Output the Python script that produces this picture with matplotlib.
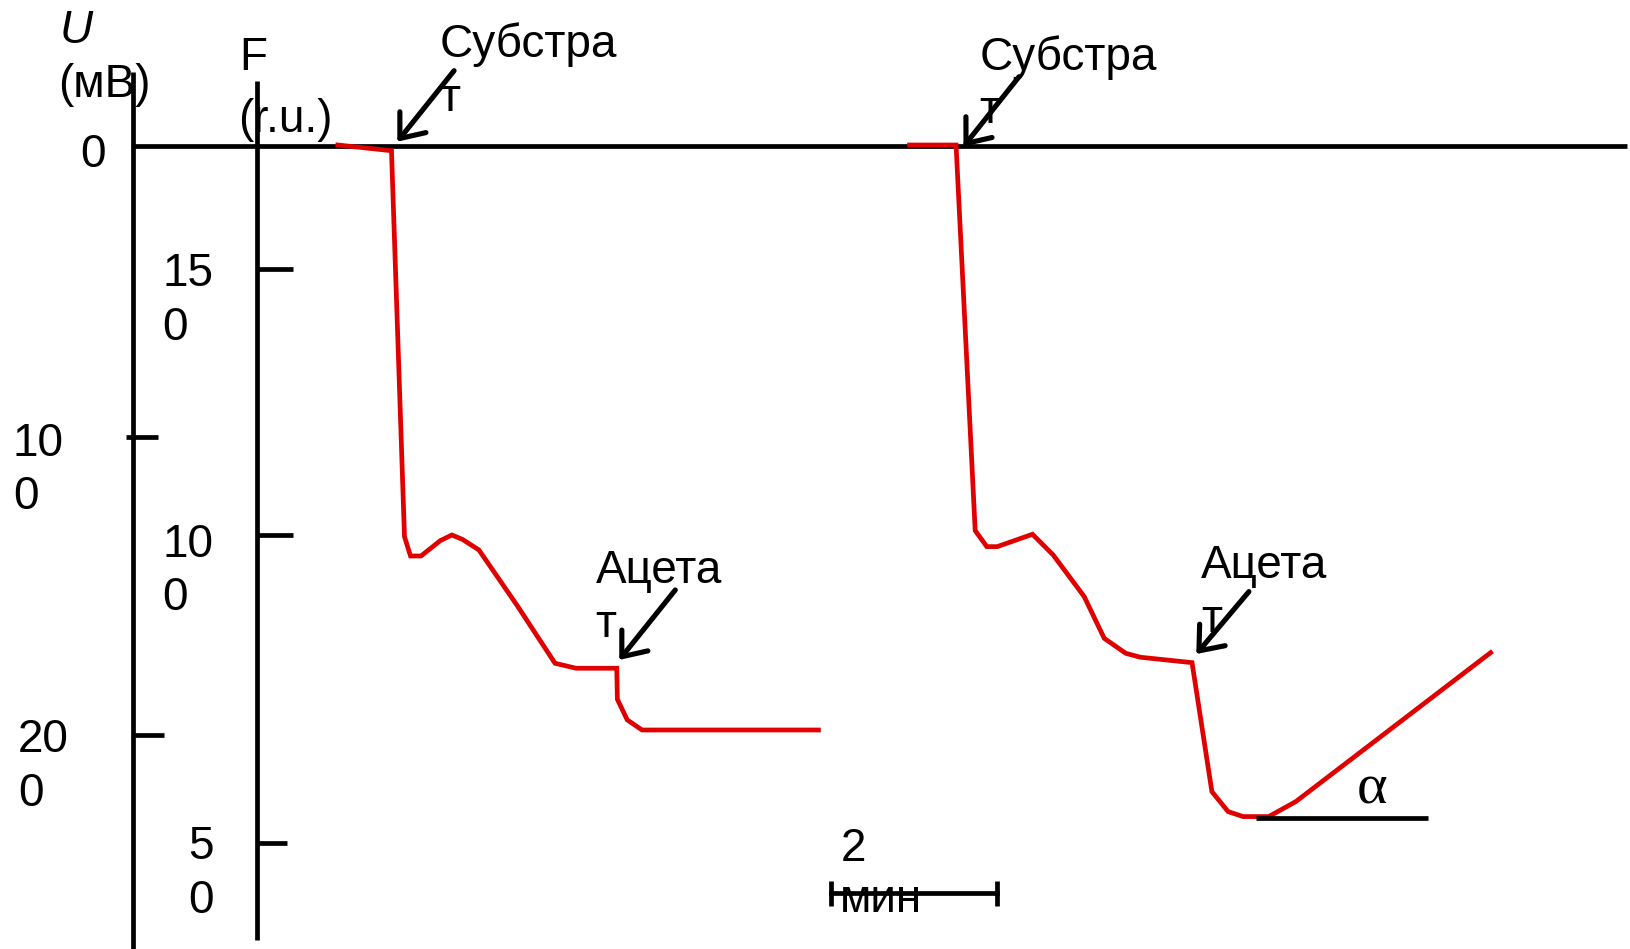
import matplotlib
matplotlib.use("Agg")
import matplotlib.pyplot as plt

plt.rcParams['font.family'] = ['Liberation Sans', 'DejaVu Sans']

# canvas units of the original drawing (1568 x 913, y grows downward)
W, H = 1568, 913

# red traces, run 1 and run 2
run1_x = [325, 376.6, 389.1, 394.9, 405, 423.6, 434.7, 444.8, 460.7, 497.8,
          533.9, 554.1, 593.3, 593.9, 603.4, 617.6, 787.3]
run1_y = [139.5, 145, 516.3, 534.9, 534.9, 520.1, 514.7, 518.9, 529.1, 583,
          638.1, 642.9, 642.9, 672.8, 692.6, 702.3, 702.3]
run2_x = [875, 919.7, 938.1, 949.3, 959.3, 993.2, 1013.1, 1043, 1062.2, 1082.9,
          1096.9, 1146.7, 1165.8, 1181.4, 1195.8, 1220.5, 1246.5, 1433.9]
run2_y = [139.5, 139.5, 510.5, 525.9, 525.9, 514, 533.9, 574, 614.1, 628.5,
          632.3, 637.5, 761.6, 780.8, 785.6, 785.6, 771.2, 627.9]

# axis tick labels (wrapped as in the source figure)
u_labels = ['0', '10\n0', '20\n0']
f_labels = ['15\n0', '10\n0', '5\n0']

# additions: label text
additions = ['Субстра\nт', 'Субстра\nт', 'Ацета\nт', 'Ацета\nт']

RED = '#e00000'
LW = 3.4
STEP = 51.5  # line step for wrapped labels

fig = plt.figure(figsize=(16.3, 9.49), dpi=100)
ax = fig.add_axes([0, 0, 1, 1])
ax.set_xlim(0, W)
ax.set_ylim(H, 0)
ax.axis('off')


def wrapped(x, y, s, size=33, **kw):
    for i, line in enumerate(s.split('\n')):
        ax.text(x, y + i * STEP, line, fontsize=size, ha='left', va='baseline', **kw)


def kline(xs, ys):
    ax.plot(xs, ys, color='k', lw=LW, solid_capstyle='butt')


# axes: U (mV), F (r.u.) and the zero line
kline([128.3, 128.3], [69, H])
kline([246.9, 246.9], [77.6, 904])
kline([128.3, 1565], [140, 140])

# ticks
kline([121, 152.3], [420.5, 420.5])
kline([128.3, 158], [707.4, 707.4])
for ty, tx2 in zip([259, 515, 811.2], [282, 281.6, 276.4]):
    kline([246.9, tx2], [ty, ty])

# tick labels
for lab, (x, y) in zip(u_labels, [(77.6, 160.4), (12.5, 438.4), (17.3, 723.9)]):
    wrapped(x, y, lab)
for lab, (x, y) in zip(f_labels, [(155.9, 275.6), (155.9, 535.6), (181, 826.7)]):
    wrapped(x, y, lab)

# axis titles
ax.text(57, 41.7, 'U', fontsize=33, style='italic', va='baseline')
ax.text(55.5, 93, '(мВ)', fontsize=33, va='baseline')
ax.text(230.5, 67.3, 'F', fontsize=33, va='baseline')
ax.text(229.5, 126.7, '(r.u.)', fontsize=33, va='baseline')

# traces
ax.plot(run1_x, run1_y, color=RED, lw=LW, solid_joinstyle='miter')
ax.plot(run2_x, run2_y, color=RED, lw=LW, solid_joinstyle='miter')

# angle reference line
kline([1208.6, 1373.3], [786.6, 786.6])
ax.text(1320, 760, 'α', fontsize=42, family='Liberation Serif', ha='center', va='center')

# addition labels + arrows
label_pos = [(423, 55.2), (942, 67.3), (573, 561.2), (1155.5, 556.3)]
arrows = [((436.8, 68), (382.2, 136.3)),
          ((980.3, 73.8), (926.8, 141.1)),
          ((649.6, 567.6), (595.7, 634.9)),
          ((1201.4, 569.2), (1150.8, 629.2))]
for lab, (x, y), (tail, tip) in zip(additions, label_pos, arrows):
    wrapped(x, y, lab)
    ax.annotate('', xy=tip, xytext=tail,
                arrowprops=dict(arrowstyle='->,head_length=1.5,head_width=1.2',
                                color='k', lw=3.7, shrinkA=0, shrinkB=0,
                                mutation_scale=10))

# time scale bar: 2 min
ax.text(808.5, 828, '2', fontsize=33, va='baseline')
ax.text(808, 877, 'мин', fontsize=33, va='baseline')
ax.plot([799, 959], [859, 859], color='k', lw=LW, marker='|', ms=18, mew=LW)

fig.savefig('out.png', dpi=100)
